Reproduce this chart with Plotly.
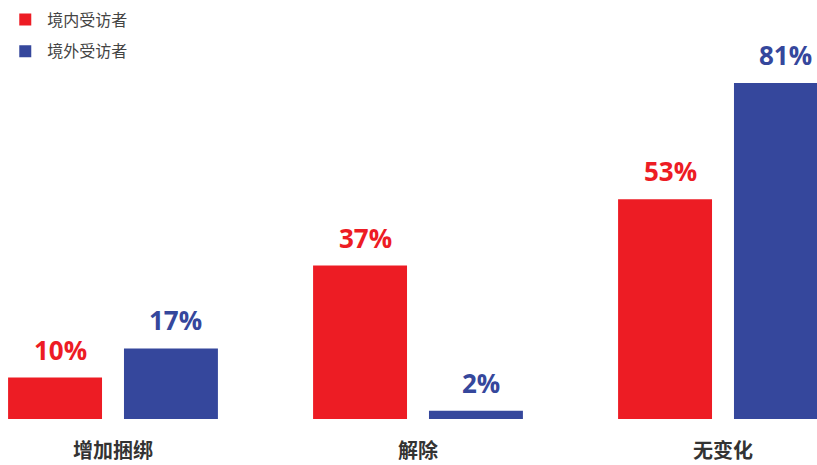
import plotly.graph_objects as go

categories = ["增加捆绑", "解除", "无变化"]
series_names = ["境内受访者", "境外受访者"]
domestic = [10, 37, 53]
overseas = [17, 2, 81]
colors = ["#ED1C24", "#35479C"]

x_idx = list(range(len(categories)))
bar_w = 0.308
offsets = [-0.344, 0.036]

fig = go.Figure()
for name, vals, col, off in zip(series_names, [domestic, overseas], colors, offsets):
    fig.add_trace(go.Bar(
        x=x_idx, y=vals, name=name, marker_color=col, marker_line_width=0,
        width=bar_w, offset=off, legendgroup=name,
    ))
    for xi, v in zip(x_idx, vals):
        fig.add_annotation(
            x=xi + off + bar_w / 2, y=v, text=f"{v}%", showarrow=False,
            xanchor="center", yanchor="bottom", xshift=5, yshift=8,
            font=dict(family="Open Sans", size=26, color=col, weight="bold"),
        )

fig.update_layout(
    width=817, height=465,
    margin=dict(l=0, r=0, t=0, b=46),
    plot_bgcolor="white", paper_bgcolor="white",
    barmode="overlay",
    showlegend=True,
    legend=dict(
        x=0.004, y=0.994, xanchor="left", yanchor="top",
        font=dict(family="Noto Sans CJK SC", size=16, color="#444"),
        traceorder="grouped", tracegroupgap=8, itemwidth=34,
        bgcolor="rgba(0,0,0,0)",
    ),
    xaxis=dict(
        range=[-113 / 305, 704 / 305], tickvals=x_idx, ticktext=categories,
        showgrid=False, zeroline=False, showline=False, ticks="",
        tickfont=dict(family="Noto Sans CJK SC", size=20, color="#333", weight="bold"),
        ticklabelstandoff=18, automargin=False,
    ),
    yaxis=dict(range=[0, 101], visible=False, automargin=False),
)

fig.write_html("out.html")
